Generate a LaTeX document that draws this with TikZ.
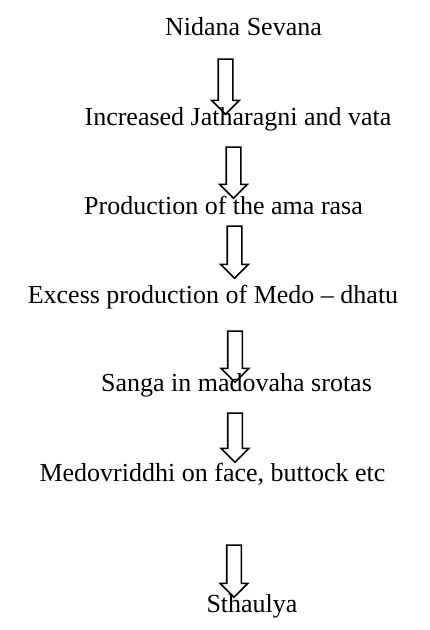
\documentclass[tikz,border=0pt]{standalone}
\usepackage{fontspec}
\setmainfont{Liberation Serif}
\usepackage{tikz}
\usetikzlibrary{shapes.arrows}
\pgfdeclarelayer{edgelayer}
\pgfdeclarelayer{nodelayer}
\pgfsetlayers{edgelayer,nodelayer,main}
\tikzstyle{none}=[inner sep=0pt]
\tikzstyle{step_text}=[inner sep=0pt, anchor=base, font=\fontsize{26}{30}\selectfont]
\tikzstyle{down_arrow}=[single arrow, draw=black, line width=1.6pt, rotate=-90, inner xsep=0pt, inner ysep=6.5pt, minimum width=27pt, single arrow head extend=6.5pt, single arrow tip angle=90, single arrow head indent=0pt]
\begin{document}
\begin{tikzpicture}[x=1pt, y=-1pt]
    \useasboundingbox (0, 0) rectangle (429, 630);
    \begin{pgfonlayer}{nodelayer}
        % stages
        \node [style={step_text}] (0) at (243.5, 35) {Nidana Sevana};
        \node [style={step_text}] (1) at (238, 125) {Increased Jatharagni and vata};
        \node [style={step_text}] (2) at (223.5, 214) {Production of the ama rasa};
        \node [style={step_text}] (3) at (213, 303) {Excess production of Medo – dhatu};
        \node [style={step_text}] (4) at (236.5, 391) {Sanga in madovaha srotas};
        \node [style={step_text}] (5) at (212.5, 481) {Medovriddhi on face, buttock etc};
        \node [style={step_text}] (6) at (252, 612) {Sthaulya};
    \end{pgfonlayer}
    \begin{pgfonlayer}{edgelayer}
        % hollow arrows between the stages
        \node [style={down_arrow}, minimum height=55pt] (10) at (225.5, 83) {};
        \node [style={down_arrow}, minimum height=51pt] (11) at (233.5, 169) {};
        \node [style={down_arrow}, minimum height=52pt] (12) at (234.5, 248.5) {};
        \node [style={down_arrow}, minimum height=51pt] (13) at (235, 353) {};
        \node [style={down_arrow}, minimum height=49pt] (14) at (235, 434) {};
        \node [style={down_arrow}, minimum height=52pt] (15) at (234, 567.5) {};
    \end{pgfonlayer}
\end{tikzpicture}
\end{document}
